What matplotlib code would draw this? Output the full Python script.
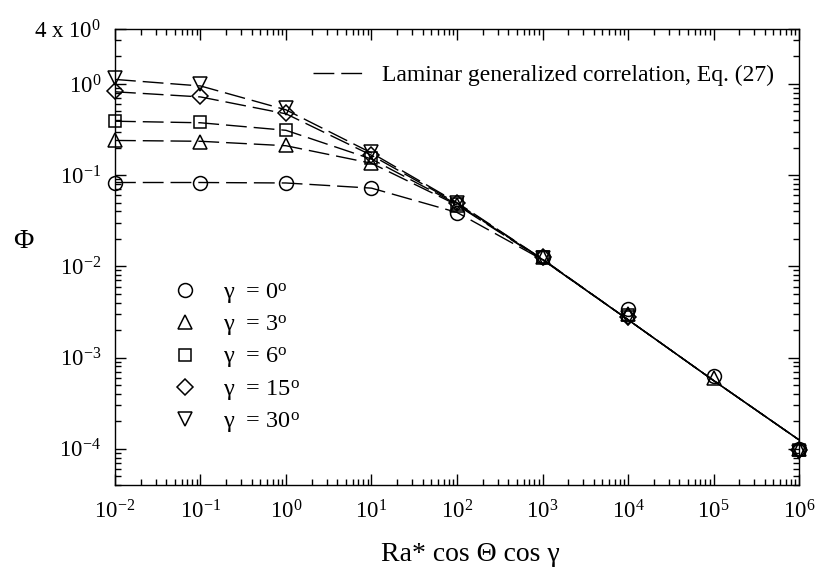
import numpy as np
import matplotlib
matplotlib.use('Agg')
import matplotlib.pyplot as plt
from matplotlib.lines import Line2D
from matplotlib.ticker import LogLocator, FixedLocator, FixedFormatter, NullFormatter

# Fonts: Times-like serif everywhere, mathtext too
plt.rcParams['font.family'] = 'Liberation Serif'
plt.rcParams['mathtext.fontset'] = 'custom'
plt.rcParams['mathtext.rm'] = 'Liberation Serif'
plt.rcParams['mathtext.it'] = 'Liberation Serif:italic'
plt.rcParams['mathtext.bf'] = 'Liberation Serif:bold'

# x positions (Ra* cos Theta cos gamma)
ra = [1e-2, 1e-1, 1e0, 1e1, 1e2, 1e3, 1e4, 1e5, 1e6]

gammas = [0, 3, 6, 15, 30]
markers = ['o', '^', 's', 'D', 'v']

# numerical results (symbols)
phi_g0 = [0.082, 0.083, 0.082, 0.072, 0.038, 0.0125, 3.4e-3, 6.3e-4, 1.0e-4]
phi_g3 = [0.245, 0.232, 0.212, 0.136, 0.047, 0.0125, 3.0e-3, 5.9e-4, 1.0e-4]
phi_g6 = [0.39, 0.38, 0.315, 0.155, 0.048, 0.0125, 2.9e-3, np.nan, 9.8e-5]
phi_g15 = [0.83, 0.74, 0.48, 0.165, 0.049, 0.0125, 2.8e-3, np.nan, 9.6e-5]
phi_g30 = [1.16, 1.01, 0.54, 0.178, 0.050, 0.0123, 2.7e-3, np.nan, 9.2e-5]

# laminar generalized correlation, Eq. (27), one curve per gamma
corr_g0 = [0.083, 0.083, 0.082, 0.072, 0.039, 0.0118, 2.6e-3, 5.6e-4, 1.25e-4]
corr_g3 = [0.24, 0.235, 0.21, 0.135, 0.047, 0.0118, 2.6e-3, 5.6e-4, 1.25e-4]
corr_g6 = [0.39, 0.375, 0.31, 0.15, 0.048, 0.0119, 2.6e-3, 5.6e-4, 1.25e-4]
corr_g15 = [0.82, 0.72, 0.47, 0.165, 0.049, 0.0120, 2.6e-3, 5.6e-4, 1.25e-4]
corr_g30 = [1.12, 0.95, 0.52, 0.175, 0.050, 0.0120, 2.6e-3, 5.6e-4, 1.25e-4]

phi_all = [phi_g0, phi_g3, phi_g6, phi_g15, phi_g30]
corr_all = [corr_g0, corr_g3, corr_g6, corr_g15, corr_g30]

y_ticks = [1e-4, 1e-3, 1e-2, 1e-1, 1e0, 4]
y_ticklabels = ['$10^{-4}$', '$10^{-3}$', '$10^{-2}$', '$10^{-1}$', '$10^{0}$', '4 x $10^{0}$']

DASH = (15, 5)

fig = plt.figure(figsize=(8.19, 5.70), dpi=100)
ax = fig.add_axes([0.1404, 0.1491, 0.8352, 0.80])

for corr in corr_all:
    ax.plot(ra, corr, color='black', lw=1.0, dashes=DASH)

for phi, mk in zip(phi_all, markers):
    ms = 8.5 if mk in ('s', 'D') else 10
    ax.plot(ra, phi, ls='none', marker=mk, ms=ms, mfc='none', mec='black',
            mew=1.1, clip_on=False, zorder=3)

ax.set_xscale('log')
ax.set_yscale('log')
ax.set_xlim(1e-2, 1e6)
ax.set_ylim(4e-5, 4)

ax.xaxis.set_major_locator(LogLocator(base=10, numticks=20))
ax.xaxis.set_minor_locator(LogLocator(base=10, subs=np.arange(2, 10), numticks=20))
ax.xaxis.set_minor_formatter(NullFormatter())
ax.yaxis.set_major_locator(FixedLocator(y_ticks))
ax.yaxis.set_major_formatter(FixedFormatter(y_ticklabels))
ax.yaxis.set_minor_locator(LogLocator(base=10, subs=np.arange(2, 10), numticks=20))
ax.yaxis.set_minor_formatter(NullFormatter())

ax.tick_params(which='both', direction='in', top=True, right=True, width=1.0)
ax.tick_params(which='major', length=8, labelsize=16.5)
ax.tick_params(which='minor', length=4)
ax.tick_params(axis='x', which='major', pad=11)
ax.tick_params(axis='y', which='major', pad=10)
for sp in ax.spines.values():
    sp.set_linewidth(1.0)

ax.set_xlabel('Ra* cos Θ cos γ', fontsize=20)
ax.xaxis.set_label_coords(0.52, -0.152)
ax.xaxis.label.set_va('center')
ax.set_ylabel('Φ', fontsize=20, rotation=0, va='center', ha='center')
ax.yaxis.set_label_coords(-0.1345, 0.535)

# legend for the correlation line
line_handle = Line2D([], [], color='black', lw=1.0, dashes=DASH)
leg1 = ax.legend([line_handle], ['Laminar generalized correlation, Eq. (27)'],
                 loc='center left', bbox_to_anchor=(0.2895, 0.899),
                 frameon=False, fontsize=17, handlelength=2.07,
                 handletextpad=0.85, borderpad=0, borderaxespad=0)
ax.add_artist(leg1)

# legend for the symbols
sym_handles = []
sym_labels = []
for g, mk in zip(gammas, markers):
    ms = 8.5 if mk in ('s', 'D') else 10
    sym_handles.append(Line2D([], [], ls='none', marker=mk, ms=ms, mfc='none',
                              mec='black', mew=1.1))
    sym_labels.append('γ  = %d$^{\\rm o}$' % g)
ax.legend(sym_handles, sym_labels, loc='upper left', bbox_to_anchor=(0.0848, 0.448),
          frameon=False, fontsize=17.5, handlelength=1.0, handletextpad=1.07,
          labelspacing=0.30, borderpad=0, borderaxespad=0)

fig.savefig('out.png', dpi=100)
